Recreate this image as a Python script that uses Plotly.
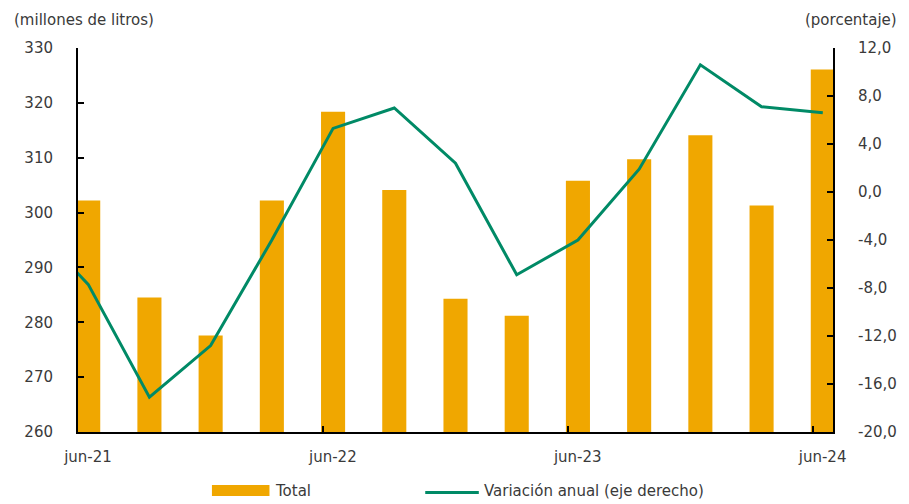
import plotly.graph_objects as go

# ---- data ----
periods = ["2021-06", "2021-09", "2021-12", "2022-03", "2022-06", "2022-09", "2022-12",
           "2023-03", "2023-06", "2023-09", "2023-12", "2024-03", "2024-06"]
total = [302.2, 284.5, 277.6, 302.2, 318.4, 304.1, 284.3, 281.2, 305.8, 309.7, 314.1, 301.3, 326.1]
var_periods = ["2021-03"] + periods
var_anual = [-2.3, -7.7, -17.1, -12.8, -4.0, 5.3, 7.0, 2.4, -6.9, -4.0, 1.9, 10.6, 7.1, 6.6]
tick_periods = ["2021-06", "2022-06", "2023-06", "2024-06"]
tick_labels = ["jun-21", "jun-22", "jun-23", "jun-24"]
left_ticks = [260, 270, 280, 290, 300, 310, 320, 330]
right_ticks = [-20, -16, -12, -8, -4, 0, 4, 8, 12]
right_tick_labels = ["-20,0", "-16,0", "-12,0", "-8,0", "-4,0", "0,0", "4,0", "8,0", "12,0"]


def month_index(p):
    y, m = map(int, p.split("-"))
    return (y - 2021) * 12 + (m - 6)


bar_x = [month_index(p) + 0.5 for p in periods]
line_x = [month_index(p) + 0.5 for p in var_periods]
tick_x = [month_index(p) for p in tick_periods]

BAR_COLOR = "#F0A700"
LINE_COLOR = "#008A66"
TXT = "#3a3a3a"
FONT = "DejaVu Sans"
FS = 15

fig = go.Figure()
fig.add_trace(go.Bar(x=bar_x, y=total, width=1.18, marker_color=BAR_COLOR,
                     marker_line_width=0, name="Total", showlegend=False))
fig.add_trace(go.Scatter(x=line_x, y=var_anual, mode="lines", yaxis="y2",
                         line=dict(color=LINE_COLOR, width=3),
                         name="Variación anual (eje derecho)", showlegend=False))

W, H = 909, 504
ML, MR, MT, MB = 78, 70, 48, 72
PW, PH = W - ML - MR, H - MT - MB


def px(x):
    return (x - ML) / PW


def py(y):
    return (H - MB - y) / PH


axis_common = dict(showline=True, linecolor="black", linewidth=2, ticks="inside",
                   ticklen=6, tickwidth=2, tickcolor="black", showgrid=False,
                   zeroline=False, tickfont=dict(family=FONT, size=FS, color=TXT))

fig.update_layout(
    width=W, height=H,
    margin=dict(l=ML, r=MR, t=MT, b=MB),
    plot_bgcolor="white", paper_bgcolor="white",
    separators=",.",
    font=dict(family=FONT, size=FS, color=TXT),
    xaxis=dict(range=[0, 37], tickmode="array", tickvals=tick_x, ticktext=tick_labels,
               ticklabelshift=10, ticklabelstandoff=10, **axis_common),
    yaxis=dict(range=[260, 330], tickmode="array", tickvals=left_ticks,
               ticklabelstandoff=20, **axis_common),
    yaxis2=dict(range=[-20, 12], tickmode="array", tickvals=right_ticks,
                ticktext=right_tick_labels, overlaying="y",
                side="right", ticklabelstandoff=20, **axis_common),
    showlegend=False,
    shapes=[
        dict(type="rect", xref="paper", yref="paper", x0=px(213), x1=px(271),
             y0=py(496), y1=py(485), fillcolor=BAR_COLOR, line_width=0),
        dict(type="line", xref="paper", yref="paper", x0=px(428), x1=px(482),
             y0=py(492.5), y1=py(492.5), line=dict(color=LINE_COLOR, width=3)),
    ],
    annotations=[
        dict(text="(millones de litros)", xref="paper", yref="paper", x=px(11), y=py(20),
             xanchor="left", yanchor="middle", showarrow=False),
        dict(text="(porcentaje)", xref="paper", yref="paper", x=px(906), y=py(20),
             xanchor="right", yanchor="middle", showarrow=False),
        dict(text="Total", xref="paper", yref="paper", x=px(275), y=py(491),
             xanchor="left", yanchor="middle", showarrow=False),
        dict(text="Variación anual (eje derecho)", xref="paper", yref="paper", x=px(485), y=py(491),
             xanchor="left", yanchor="middle", showarrow=False),
    ],
)

fig.write_html("out.html", config={"displayModeBar": False},
               post_script="document.body.style.margin='0';")
